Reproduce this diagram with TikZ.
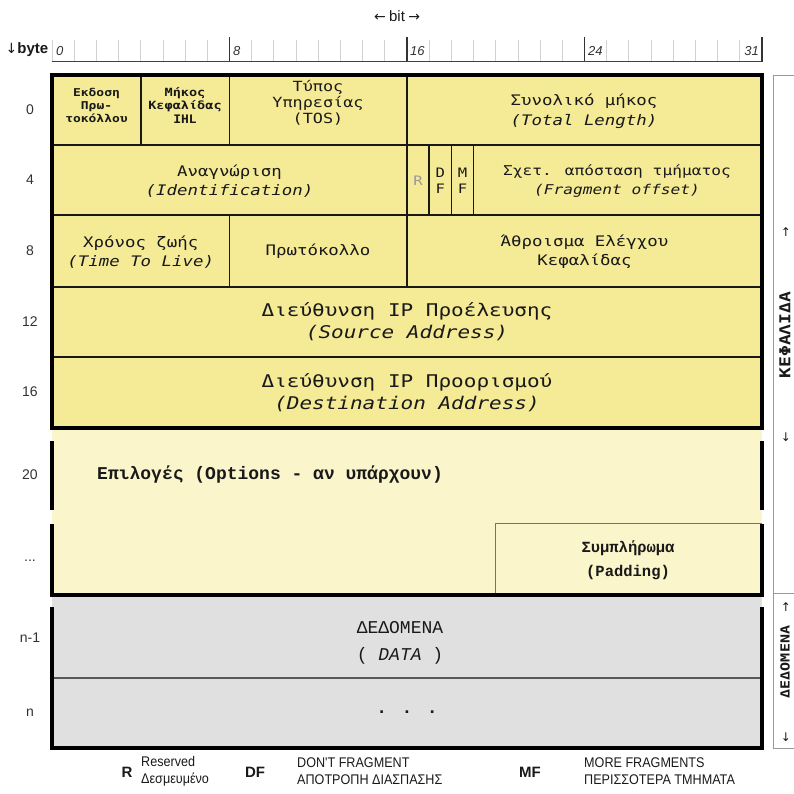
\documentclass[tikz,border=0pt]{standalone}
\usepackage{fontspec}
\newfontfamily\mono[FakeStretch=1.2]{DejaVu Sans Mono}
\newfontfamily\cour{Liberation Mono}
\newfontfamily\lsans{Liberation Sans}
\newfontfamily\nsans[FakeStretch=0.9]{Liberation Sans}
\newfontfamily\djv{DejaVu Sans}
\definecolor{hdr}{RGB}{245,234,150}
\definecolor{opt}{RGB}{250,245,202}
\definecolor{dat}{RGB}{224,224,224}
\definecolor{ink}{RGB}{25,25,25}
\definecolor{lbl}{RGB}{50,50,50}
\tikzset{
  frame/.style={line width=4pt, draw=black},
  inner/.style={line width=1.5pt, draw=ink},
  thinl/.style={line width=1pt, draw=black!55},
  txt/.style={align=center, inner sep=0pt, text=ink},
  fs/.style n args={3}{font=#1\fontsize{#2}{#3}\selectfont},
  bytelbl/.style={inner sep=0pt, text=lbl, font=\lsans\fontsize{14}{14}\selectfont},
  rulerlbl/.style={anchor=west, inner sep=0pt, text=lbl, font=\lsans\itshape\fontsize{13}{13}\selectfont},
  minortick/.style={draw=black!18, line width=0.8pt},
  majortick/.style={draw=black!80, line width=1.3pt},
  bracket/.style={draw=black!40, line width=1pt},
  legkey/.style={inner sep=0pt, text=ink, font=\lsans\bfseries\fontsize{15}{15}\selectfont},
  legtxt/.style={anchor=west, align=left, inner sep=0pt, text=ink, font=\nsans\fontsize{14}{17}\selectfont},
  arr/.style={inner sep=0pt, text=ink, font=\djv\fontsize{12}{12}\selectfont}
}
\begin{document}
\begin{tikzpicture}[x=1pt,y=-1pt]
\useasboundingbox (0,0) rectangle (794,793);
% ---------- title / ruler
\node[inner sep=0pt, text=ink] (bit) at (397,16) {{\djv\fontsize{14}{14}\selectfont ←} {\lsans\fontsize{15}{15}\selectfont bit} {\djv\fontsize{14}{14}\selectfont →}};
\node[inner sep=0pt, text=ink] (byte) at (27,50) {{\djv\fontsize{14}{14}\selectfont ↓}{\lsans\bfseries\fontsize{15}{15}\selectfont byte}};
\foreach \i in {0,...,32}{
  \pgfmathsetmacro{\xx}{52+22.1875*\i}
  \draw[minortick] (\xx,40) -- (\xx,61);
}
\foreach \i in {8,16,24,32}{
  \pgfmathsetmacro{\xx}{52+22.1875*\i}
  \draw[majortick] (\xx,37) -- (\xx,62);
}
\draw[draw=black!75, line width=1.5pt] (52,61.5) coordinate (rl) -- (762,61.5) coordinate (rr);
\node[rulerlbl] (b0) at (56,51) {0};
\node[rulerlbl] (b8) at (233,51) {8};
\node[rulerlbl] (b16) at (410,51) {16};
\node[rulerlbl] (b24) at (588,51) {24};
\node[rulerlbl, anchor=east] (b31) at (759,51) {31};
% ---------- fills
\fill[hdr] (52,75) rectangle (762,428);
\fill[opt] (52,429) rectangle (762,595);
\fill[dat] (52,597) rectangle (762,748);
% ---------- header inner lines
\draw[inner] (52,145) -- (762,145);
\draw[inner] (52,215) -- (762,215);
\draw[inner] (52,287) -- (762,287);
\draw[inner] (52,357) -- (762,357);
\draw[inner] (140.75,75) -- (140.75,145);
\draw[inner] (229.5,75) -- (229.5,145);
\draw[inner] (407,75) -- (407,145);
\draw[inner] (407,145) -- (407,215);
\draw[inner] (429.2,145) -- (429.2,215);
\draw[inner] (451.4,145) -- (451.4,215);
\draw[inner] (473.6,145) -- (473.6,215);
\draw[inner] (229.5,215) -- (229.5,287);
\draw[inner] (407,215) -- (407,287);
\draw[frame] (52,75) rectangle (762,428);
% ---------- options
\draw[thinl] (495.75,595) -- (495.75,523) -- (762,523);
\draw[frame] (52,441) -- (52,510);
\draw[frame] (762,441) -- (762,510);
\draw[frame] (52,524) -- (52,595) -- (762,595) -- (762,524);
% ---------- data
\draw[draw=black!65, line width=1.5pt] (52,678) -- (762,678);
\draw[frame] (52,607) -- (52,748) -- (762,748) -- (762,607);
% ---------- cell texts
\node[txt, fs={\mono\bfseries}{10.8}{13}] (ver) at (96.5,105) {Εκδοση\\Πρω-\\τοκόλλου};
\node[txt, fs={\mono\bfseries}{11.3}{13.5}] (ihl) at (185,105) {Μήκος\\Κεφαλίδας\\{\cour\bfseries\fontsize{13}{13}\selectfont IHL}};
\node[txt, fs={\mono}{14}{16}] (tos) at (318,103) {Τύπος\\Υπηρεσίας\\(TOS)};
\node[txt, fs={\mono}{14.5}{20}] (tl) at (584,111) {Συνολικό μήκος\\\itshape(Total Length)};
\node[txt, fs={\mono}{14.5}{19}] (id) at (229.5,181) {Αναγνώριση\\\itshape(Identification)};
\node[txt, fs={\mono}{13}{13}, text=black!40] (r) at (418,181) {R};
\node[txt, fs={\mono}{13}{16}] (df) at (440.3,181) {D\\F};
\node[txt, fs={\mono}{13}{16}] (mf) at (462.5,181) {M\\F};
\node[txt, fs={\mono}{13.5}{19}] (fo) at (617,181) {Σχετ. απόσταση τμήματος\\\itshape(Fragment offset)};
\node[txt, fs={\mono}{14.5}{19}] (ttl) at (140.75,252) {Χρόνος ζωής\\\itshape(Time To Live)};
\node[txt, fs={\mono}{14.5}{14.5}] (proto) at (318,251) {Πρωτόκολλο};
\node[txt, fs={\mono}{14.5}{19}] (chk) at (584.5,252) {Άθροισμα Ελέγχου\\Κεφαλίδας};
\node[txt, fs={\mono}{17.5}{22}] (src) at (407,322) {Διεύθυνση IP Προέλευσης\\\itshape(Source Address)};
\node[txt, fs={\mono}{17.5}{22}] (dst) at (407,393) {Διεύθυνση IP Προορισμού\\\itshape(Destination Address)};
\node[txt, anchor=west, fs={\cour\bfseries}{18}{18}] (opts) at (97,475) {Επιλογές (Options - αν υπάρχουν)};
\node[txt, fs={\cour\bfseries}{15.5}{24}] (pad) at (628,560) {Συμπλήρωμα\\(Padding)};
\node[txt, fs={\cour}{18}{27}] (data) at (400,643) {ΔΕΔΟΜΕΝΑ\\( \textit{DATA} )};
\node[txt, fs={\cour\bfseries}{18}{18}] (dots) at (407,712) {. . .};
% ---------- byte labels
\node[bytelbl] (y0) at (30,110) {0};
\node[bytelbl] (y4) at (30,180) {4};
\node[bytelbl] (y8) at (30,251) {8};
\node[bytelbl] (y12) at (30,322) {12};
\node[bytelbl] (y16) at (30,392) {16};
\node[bytelbl] (y20) at (30,475) {20};
\node[bytelbl] (ydots) at (30,561) {...};
\node[bytelbl] (yn1) at (30,638) {n-1};
\node[bytelbl] (yn) at (30,713) {n};
% ---------- right bracket
\draw[bracket] (794,75) -- (773,75) -- (773,748) -- (794,748);
\draw[bracket] (773,593) -- (794,593);
\node[inner sep=0pt, rotate=90, text=ink, font=\mono\bfseries\fontsize{15}{15}\selectfont] (hdrlbl) at (785,335) {ΚΕΦΑΛΙΔΑ};
\node[inner sep=0pt, rotate=90, text=ink, font=\mono\bfseries\fontsize{12.5}{12.5}\selectfont] (datlbl) at (785,662) {ΔΕΔΟΜΕΝΑ};
\node[arr] (a1) at (786,232) {↑};
\node[arr] (a2) at (786,437) {↓};
\node[arr] (a3) at (786,607) {↑};
\node[arr] (a4) at (786,737) {↓};
% ---------- legend
\node[legkey] (kr) at (127,772) {R};
\node[legtxt] (tr) at (141,771) {Reserved\\Δεσμευμένο};
\node[legkey] (kdf) at (255,772) {DF};
\node[legtxt] (tdf) at (297,771) {DON'T FRAGMENT\\ΑΠΟΤΡΟΠΗ ΔΙΑΣΠΑΣΗΣ};
\node[legkey] (kmf) at (530,772) {MF};
\node[legtxt] (tmf) at (584,771) {MORE FRAGMENTS\\ΠΕΡΙΣΣΟΤΕΡΑ ΤΜΗΜΑΤΑ};
\end{tikzpicture}
\end{document}
